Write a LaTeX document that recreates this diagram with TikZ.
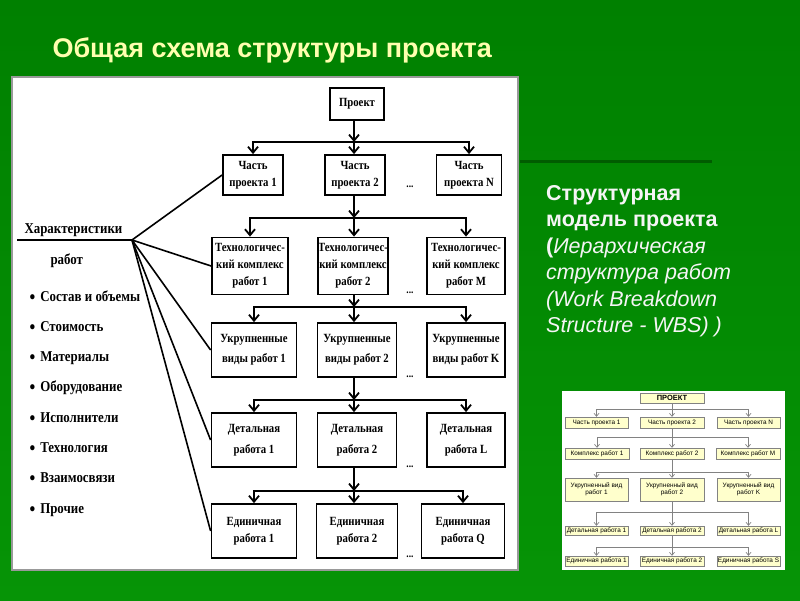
\documentclass[tikz,border=0pt]{standalone}
\usepackage{fontspec}
\setmainfont{Liberation Serif}
\newfontfamily\scanfont[FakeStretch=0.86]{Liberation Serif}
\newfontfamily\slidefont{Liberation Sans}
\usetikzlibrary{arrows.meta}
\definecolor{slidegreen}{RGB}{0,128,0}
\definecolor{slidegreenlow}{RGB}{6,148,6}
\definecolor{titleyellow}{RGB}{255,255,175}
\definecolor{darkbar}{RGB}{0,92,0}
\definecolor{wbsfill}{RGB}{255,255,204}
\definecolor{wbsline}{RGB}{130,130,130}
\begin{document}
\begin{tikzpicture}[x=1pt, y=-1pt,
  box/.style={draw, line width=1.8pt, inner sep=0pt, align=center, font=\scanfont\bfseries\fontsize{12.5}{17}\selectfont},
  arr/.style={line width=1.8pt, -{Straight Barb[length=6pt,width=10pt]}},
  link/.style={line width=1.6pt},
  gapdots/.style={font=\scanfont\bfseries\fontsize{11}{12}\selectfont},
  feature/.style={anchor=base west, font=\scanfont\bfseries\fontsize{15}{18}\selectfont},
  wbs/.style={draw=wbsline, fill=wbsfill, inner sep=0pt, align=center, font=\slidefont\fontsize{6.4}{7.5}\selectfont},
  warr/.style={draw=wbsline, line width=0.7pt, -{Straight Barb[length=3pt,width=5pt]}}]
\useasboundingbox (0,0) rectangle (800,600);
\shade[top color=slidegreen, bottom color=slidegreenlow] (0,0) rectangle (800,600);
\node[anchor=base west, text=titleyellow, font=\slidefont\bfseries\fontsize{27}{30}\selectfont] (title) at (49,57) {Общая схема структуры проекта};
\draw[draw=gray!80, line width=1.2pt, fill=white] (12,77) rectangle (518,570);
\fill[white] (562,391) rectangle (785,570);
\draw[darkbar, line width=3pt] (520,161) -- (712,161);

\node[box, minimum width=54pt, minimum height=32pt] (proj) at (357,104) {Проект};
\node[box, minimum width=60pt, minimum height=40pt] (part1) at (253,175) {Часть\\проекта 1};
\node[box, minimum width=60pt, minimum height=40pt] (part2) at (355,175) {Часть\\проекта 2};
\node[box, minimum width=65pt, minimum height=40pt] (partN) at (469,175) {Часть\\проекта N};
\node[box, minimum width=76pt, minimum height=57pt] (tech1) at (250,266) {Технологичес-\\кий комплекс\\работ 1};
\node[box, minimum width=69pt, minimum height=57pt] (tech2) at (353,266) {Технологичес-\\кий комплекс\\работ 2};
\node[box, minimum width=78pt, minimum height=57pt] (techM) at (466,266) {Технологичес-\\кий комплекс\\работ M};
\node[box, minimum width=85pt, minimum height=54pt] (big1) at (254,350) {Укрупненные\\[3pt]виды работ 1};
\node[box, minimum width=79pt, minimum height=54pt] (big2) at (357,350) {Укрупненные\\[3pt]виды работ 2};
\node[box, minimum width=78pt, minimum height=54pt] (bigK) at (466,350) {Укрупненные\\[3pt]виды работ K};
\node[box, minimum width=85pt, minimum height=54pt] (det1) at (254,440) {Детальная\\[4pt]работа 1};
\node[box, minimum width=79pt, minimum height=54pt] (det2) at (357,440) {Детальная\\[4pt]работа 2};
\node[box, minimum width=78pt, minimum height=54pt] (detL) at (466,440) {Детальная\\[4pt]работа L};
\node[box, minimum width=85pt, minimum height=54pt] (unit1) at (254,531) {Единичная\\работа 1};
\node[box, minimum width=81pt, minimum height=54pt] (unit2) at (357,531) {Единичная\\работа 2};
\node[box, minimum width=83pt, minimum height=54pt] (unitQ) at (463,531) {Единичная\\работа Q};
\foreach \n/\y in {gap1/187, gap2/293, gap3/377, gap4/467, gap5/557}
  \node[gapdots] (\n) at (410,\y) {...};

\coordinate (bus1) at (354,142);
\coordinate (bus2) at (354,218);
\coordinate (bus3) at (354,307);
\coordinate (bus4) at (354,400);
\coordinate (bus5) at (354,491);
\foreach \up/\a/\b/\c/\bus in {proj/part1/part2/partN/bus1, part2/tech1/tech2/techM/bus2,
    tech2/big1/big2/bigK/bus3, big2/det1/det2/detL/bus4, det2/unit1/unit2/unitQ/bus5} {
  \draw[arr] (\up.south -| \bus) -- (\bus);
  \draw[arr] (\bus) -- (\b.north -| \bus);
  \draw[arr] (\bus) -| (\a.north);
  \draw[arr] (\bus) -| (\c.north);
}

\node[feature] (chartitle) at (21,233) {Характеристики};
\node[feature] (chartail) at (47,264) {работ};
\coordinate (hubstart) at (17,240);
\coordinate (hub) at (132,240);
\draw[link] (hubstart) -- (hub);
\foreach \n in {part1,tech1,big1,det1,unit1}
  \draw[link] (hub) -- (\n.west);
\foreach \t [count=\i] in {Состав и объемы, Стоимость, Материалы, Оборудование, Исполнители, Технология, Взаимосвязи, Прочие}
  \node[feature] (feature\i) at (26,{301+30.3*(\i-1)}) {\raisebox{-2pt}{\fontsize{19}{18}\selectfont\textbullet}\hspace{5pt}\t};

\node[anchor=north west, align=left, text=white!96!black, inner sep=0pt, font=\slidefont\fontsize{21.5}{26.5}\selectfont] (wbsnote) at (546,185)
  {\textbf{Структурная}\\\textbf{модель проекта}\\\textbf{(}\textit{Иерархическая}\\\textit{структура работ}\\\textit{(Work Breakdown}\\\textit{Structure - WBS) )}};

\node[wbs, font=\slidefont\bfseries\fontsize{7.5}{8}\selectfont, minimum width=64pt, minimum height=10pt] (sproj) at (672,398) {ПРОЕКТ};
\node[wbs, minimum width=63pt, minimum height=11pt] (spart1) at (596.5,422.5) {Часть проекта 1};
\node[wbs, minimum width=64pt, minimum height=11pt] (spart2) at (672,422.5) {Часть проекта 2};
\node[wbs, minimum width=63pt, minimum height=11pt] (spartN) at (748.5,422.5) {Часть проекта N};
\node[wbs, minimum width=64pt, minimum height=11pt] (scx1) at (597,453.5) {Комплекс работ 1};
\node[wbs, minimum width=64pt, minimum height=11pt] (scx2) at (672,453.5) {Комплекс работ 2};
\node[wbs, minimum width=64pt, minimum height=11pt] (scxM) at (748,453.5) {Комплекс работ M};
\node[wbs, minimum width=63pt, minimum height=23pt] (sbig1) at (596.5,489.5) {Укрупненный вид\\работ 1};
\node[wbs, minimum width=64pt, minimum height=23pt] (sbig2) at (672,489.5) {Укрупненный вид\\работ 2};
\node[wbs, minimum width=63pt, minimum height=23pt] (sbigK) at (748.5,489.5) {Укрупненный вид\\работ K};
\node[wbs, minimum width=63pt, minimum height=9pt] (sdet1) at (596.5,530.5) {Детальная работа 1};
\node[wbs, minimum width=64pt, minimum height=9pt] (sdet2) at (672,530.5) {Детальная работа 2};
\node[wbs, minimum width=63pt, minimum height=9pt] (sdetL) at (748.5,530.5) {Детальная работа L};
\node[wbs, minimum width=63pt, minimum height=10pt] (sunit1) at (596.5,561) {Единичная работа 1};
\node[wbs, minimum width=64pt, minimum height=10pt] (sunit2) at (672,561) {Единичная работа 2};
\node[wbs, minimum width=63pt, minimum height=10pt] (sunitS) at (748.5,561) {Единичная работа S};
\coordinate (sbus1) at (672,409);
\coordinate (sbus2) at (672,437);
\coordinate (sbus3) at (672,472);
\coordinate (sbus4) at (672,512);
\coordinate (sbus5) at (672,547);
\foreach \up/\a/\b/\c/\bus in {sproj/spart1/spart2/spartN/sbus1, spart2/scx1/scx2/scxM/sbus2,
    scx2/sbig1/sbig2/sbigK/sbus3, sbig2/sdet1/sdet2/sdetL/sbus4, sdet2/sunit1/sunit2/sunitS/sbus5} {
  \draw[wbsline, line width=0.7pt] (\up.south) -- (\bus);
  \draw[warr] (\bus) -- (\b.north);
  \draw[warr] (\bus) -| (\a.north);
  \draw[warr] (\bus) -| (\c.north);
}
\end{tikzpicture}
\end{document}
